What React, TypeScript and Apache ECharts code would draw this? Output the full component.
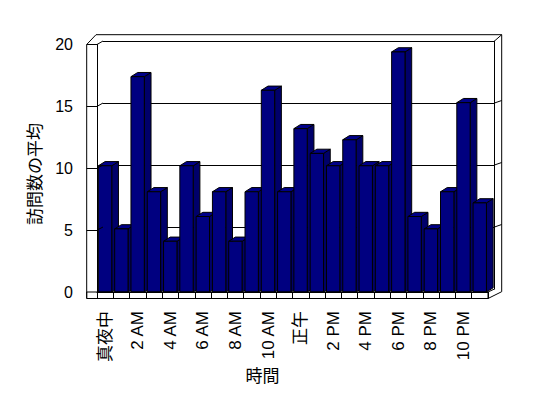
import React, { useEffect, useRef } from "react";
import * as echarts from "echarts";

// ---- data ----
const hourLabels: string[] = [
  "真夜中", "1 AM", "2 AM", "3 AM", "4 AM", "5 AM", "6 AM", "7 AM", "8 AM", "9 AM", "10 AM", "11 AM",
  "正午", "1 PM", "2 PM", "3 PM", "4 PM", "5 PM", "6 PM", "7 PM", "8 PM", "9 PM", "10 PM", "11 PM",
];
const avgVisits: number[] = [
  10.2, 5.1, 17.4, 8.1, 4.1, 10.2, 6.1, 8.1, 4.1, 8.1, 16.3, 8.1,
  13.2, 11.2, 10.2, 12.3, 10.2, 10.2, 19.4, 6.1, 5.1, 8.1, 15.3, 7.2,
];
const yTicks: number[] = [0, 5, 10, 15, 20];
const xTitle = "時間";
const yTitle = "訪問数の平均";

// ---- layout (frame of the 3D box) ----
const W = 548, H = 398;
const FL = 97, FR = 488, FT = 44.5, FB = 292; // front plane
const BL = 103, BR = 494.5, BT = 41, BB = 289; // back wall
const OL = 86.7, OT = 34.7, OR = 501.7, FLOOR_B = 298.5;
const BAR_DX = 6.7, BAR_DY = -4.2;
const FONT = "'Liberation Sans', Arial, 'Noto Sans CJK JP', sans-serif";
const CJK = "'Noto Sans CJK JP', sans-serif";

const yFront = (v: number) => FB - (v / 20) * (FB - FT);
const yBack = (v: number) => BB - (v / 20) * (BB - BT);

export default function App() {
  const ref = useRef<HTMLDivElement>(null);
  useEffect(() => {
    if (!ref.current) return;
    const chart = echarts.init(ref.current, undefined, { renderer: "svg" });
    const line = (x1: number, y1: number, x2: number, y2: number) => ({
      type: "line",
      z: 50,
      shape: { x1, y1, x2, y2 },
      style: { stroke: "#000", lineWidth: 1 },
    });
    const frame: any[] = [
      // floor front strip
      {
        type: "rect",
        z: 40,
        shape: { x: OL, y: FB, width: FR - OL, height: FLOOR_B - FB },
        style: { fill: "#fff", stroke: "#000", lineWidth: 1 },
      },
      line(OL, FT, OL, FLOOR_B),
      line(OL, FT, FL - 1, OT),
      line(FL - 1, OT, OR, OT),
      line(OR, OT, OR, BB + 2.7),
      line(BR, BT, OR, OT),
      line(FR, FLOOR_B, OR, BB + 2.7),
      line(FR, FB, BR, BB),
      line(FL, FT, BL, BT),
    ];
    yTicks.slice(1, 4).forEach((v) => {
      frame.push(line(FL, yFront(v), BL, yBack(v)));
      frame.push(line(BR, yBack(v), OR, yBack(v) - 2.5));
    });
    frame.push({
      type: "text",
      z: 50,
      x: 33,
      y: 174,
      rotation: Math.PI / 2,
      style: { text: yTitle, font: `17px ${CJK}`, fill: "#000", align: "center", verticalAlign: "middle" },
    });
    frame.push({
      type: "text",
      z: 50,
      x: 262.5,
      y: 374.5,
      style: { text: xTitle, font: `17px ${CJK}`, fill: "#000", align: "center", verticalAlign: "middle" },
    });

    chart.setOption({
      animation: false,
      backgroundColor: "#fff",
      grid: [
        { left: FL, right: W - FR, top: FT, bottom: H - FB },
        { left: BL, right: W - BR, top: BT, bottom: H - BB },
      ],
      xAxis: [
        {
          type: "category",
          gridIndex: 0,
          data: hourLabels,
          boundaryGap: true,
          axisLine: { show: true, lineStyle: { color: "#000", width: 1 } },
          axisTick: { show: true, interval: 0, length: FLOOR_B - FB, lineStyle: { color: "#000" } },
          axisLabel: {
            interval: 1,
            rotate: 90,
            margin: 19,
            color: "#000",
            fontSize: 17,
            fontFamily: FONT,
          },
          splitLine: { show: false },
          z: 45,
        },
        { type: "category", gridIndex: 1, data: hourLabels, show: false },
      ],
      yAxis: [
        {
          type: "value",
          gridIndex: 0,
          min: 0,
          max: 20,
          interval: 5,
          axisLine: { show: true, lineStyle: { color: "#000", width: 1 } },
          axisTick: { show: true, length: FL - OL, lineStyle: { color: "#000" } },
          axisLabel: { margin: 24, color: "#000", fontSize: 16, fontFamily: FONT, padding: [5, 0, 0, 0] },
          splitLine: { show: false },
        },
        {
          type: "value",
          gridIndex: 1,
          min: 0,
          max: 20,
          interval: 5,
          position: "right",
          axisLine: { show: true, lineStyle: { color: "#000", width: 1 } },
          axisTick: { show: false },
          axisLabel: { show: false },
          splitLine: { show: true, showMinLine: false, lineStyle: { color: "#000", width: 1 } },
        },
      ],
      series: [
        {
          type: "custom",
          xAxisIndex: 0,
          yAxisIndex: 0,
          z: 10,
          encode: { x: 0, y: 1 },
          data: avgVisits.map((v, i) => [i, v]),
          renderItem: (params: any, api: any) => {
            const i = api.value(0);
            const v = api.value(1);
            const pt = api.coord([i, v]);
            const p0 = api.coord([i, 0]);
            const w = api.size([1, 0])[0];
            const x0 = pt[0] - w / 2 + w * 0.085;
            const x1 = x0 + w * 0.82;
            const yt = pt[1];
            const yb = p0[1];
            const st = { stroke: "#000", lineWidth: 1 };
            return {
              type: "group",
              children: [
                {
                  type: "polygon",
                  shape: { points: [[x1, yt], [x1 + BAR_DX, yt + BAR_DY], [x1 + BAR_DX, yb + BAR_DY], [x1, yb]] },
                  style: { ...st, fill: "#00006a" },
                },
                {
                  type: "polygon",
                  shape: { points: [[x0, yt], [x1, yt], [x1 + BAR_DX, yt + BAR_DY], [x0 + BAR_DX, yt + BAR_DY]] },
                  style: { ...st, fill: "#000088" },
                },
                {
                  type: "rect",
                  shape: { x: x0, y: yt, width: x1 - x0, height: yb - yt },
                  style: { ...st, fill: "#000080" },
                },
              ],
            };
          },
        },
      ],
      graphic: frame,
    });
    return () => chart.dispose();
  }, []);
  return (
    <div
      ref={ref}
      style={{ position: "fixed", left: 0, top: 0, width: W, height: H, background: "#fff" }}
    />
  );
}
